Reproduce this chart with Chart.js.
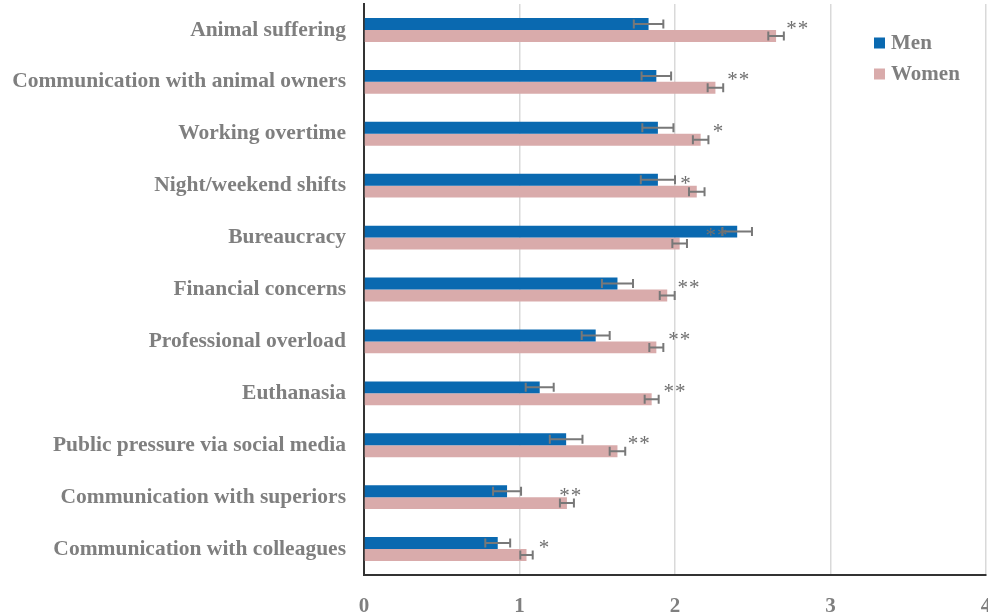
<!DOCTYPE html>
<html>
<head>
<meta charset="utf-8">
<script src="https://cdn.jsdelivr.net/npm/chart.js@4/dist/chart.umd.min.js"></script>
<style>
  html, body { margin: 0; padding: 0; background: #fff; }
  #wrap { width: 988px; height: 613px; }
</style>
</head>
<body>
<div id="wrap"><canvas id="chart"></canvas></div>
<script>
const categories = [
  'Animal suffering',
  'Communication with animal owners',
  'Working overtime',
  'Night/weekend shifts',
  'Bureaucracy',
  'Financial concerns',
  'Professional overload',
  'Euthanasia',
  'Public pressure via social media',
  'Communication with superiors',
  'Communication with colleagues'
];
const men = [1.83, 1.88, 1.89, 1.89, 2.40, 1.63, 1.49, 1.13, 1.30, 0.92, 0.86];
const menErr = [0.095, 0.095, 0.10, 0.11, 0.095, 0.10, 0.09, 0.09, 0.105, 0.09, 0.08];
const women = [2.65, 2.26, 2.165, 2.14, 2.03, 1.95, 1.88, 1.85, 1.63, 1.305, 1.045];
const womenErr = [0.05, 0.05, 0.05, 0.05, 0.047, 0.048, 0.045, 0.045, 0.05, 0.045, 0.04];
// significance marks and the x value they sit at
const sig = ['**', '**', '*', '*', '**', '**', '**', '**', '**', '**', '*'];
const sigAt = [2.79, 2.41, 2.28, 2.07, 2.27, 2.09, 2.03, 2.0, 1.77, 1.33, 1.16];
const xTicks = [0, 1, 2, 3, 4];

const GREY = '#7f7f7f';
const SERIF = '"Liberation Serif", "Times New Roman", serif';

const errorBars = {
  id: 'errorBars',
  afterDatasetsDraw(chart) {
    const { ctx, scales: { x } } = chart;
    const errs = [menErr, womenErr];
    ctx.save();
    ctx.strokeStyle = '#787878';
    ctx.lineWidth = 2;
    chart.data.datasets.forEach((ds, i) => {
      chart.getDatasetMeta(i).data.forEach((bar, j) => {
        const lo = x.getPixelForValue(ds.data[j] - errs[i][j]);
        const hi = x.getPixelForValue(ds.data[j] + errs[i][j]);
        const y = bar.y;
        ctx.beginPath();
        ctx.moveTo(lo, y); ctx.lineTo(hi, y);
        ctx.moveTo(lo, y - 4.5); ctx.lineTo(lo, y + 4.5);
        ctx.moveTo(hi, y - 4.5); ctx.lineTo(hi, y + 4.5);
        ctx.stroke();
      });
    });

    // asterisks next to each pair
    ctx.fillStyle = '#6f6f6f';
    ctx.font = '21px ' + SERIF;
    ctx.letterSpacing = '1px';
    ctx.textAlign = 'center';
    ctx.textBaseline = 'middle';
    const menBars = chart.getDatasetMeta(0).data;
    sig.forEach((s, j) => {
      ctx.fillText(s, x.getPixelForValue(sigAt[j]), menBars[j].y + 5);
    });
    ctx.restore();
  },
  afterDraw(chart) {
    // legend in the upper right corner
    const { ctx } = chart;
    ctx.save();
    ctx.font = 'bold 21px ' + SERIF;
    ctx.textBaseline = 'middle';
    chart.data.datasets.forEach((ds, i) => {
      const y = 43 + i * 31;
      ctx.fillStyle = ds.backgroundColor;
      ctx.fillRect(874, y - 5.5, 11, 11);
      ctx.fillStyle = GREY;
      ctx.fillText(ds.label, 891, y + 1);
    });
    ctx.restore();
  }
};

new Chart(document.getElementById('chart'), {
  type: 'bar',
  data: {
    labels: categories,
    datasets: [
      { label: 'Men', data: men, backgroundColor: '#0A69B0' },
      { label: 'Women', data: women, backgroundColor: '#D9ABAB' }
    ]
  },
  options: {
    indexAxis: 'y',
    responsive: true,
    maintainAspectRatio: false,
    animation: false,
    categoryPercentage: 0.46,
    barPercentage: 1,
    layout: { padding: { top: 4, right: 2, left: 0, bottom: 0 } },
    plugins: {
      legend: { display: false },
      tooltip: { enabled: false }
    },
    scales: {
      x: {
        min: 0,
        max: 4,
        afterBuildTicks(scale) {
          scale.ticks = xTicks.map(v => ({ value: v }));
        },
        afterFit(scale) {
          scale.height = 38;
          scale.paddingLeft = 0;
          scale.paddingRight = 0;
        },
        grid: { color: '#d9d9d9', lineWidth: 1.5, drawTicks: false },
        border: { color: '#333', width: 2 },
        ticks: {
          color: GREY,
          padding: 19,
          font: { family: SERIF, size: 21, weight: 'bold' }
        }
      },
      y: {
        afterFit(scale) {
          scale.width = 364;
          scale.paddingTop = 0;
          scale.paddingBottom = 0;
        },
        grid: { display: false, drawTicks: false },
        border: { color: '#333', width: 2 },
        ticks: {
          color: GREY,
          padding: 18,
          font: { family: SERIF, size: 21.5, weight: 'bold' }
        }
      }
    }
  },
  plugins: [errorBars]
});
</script>
</body>
</html>
